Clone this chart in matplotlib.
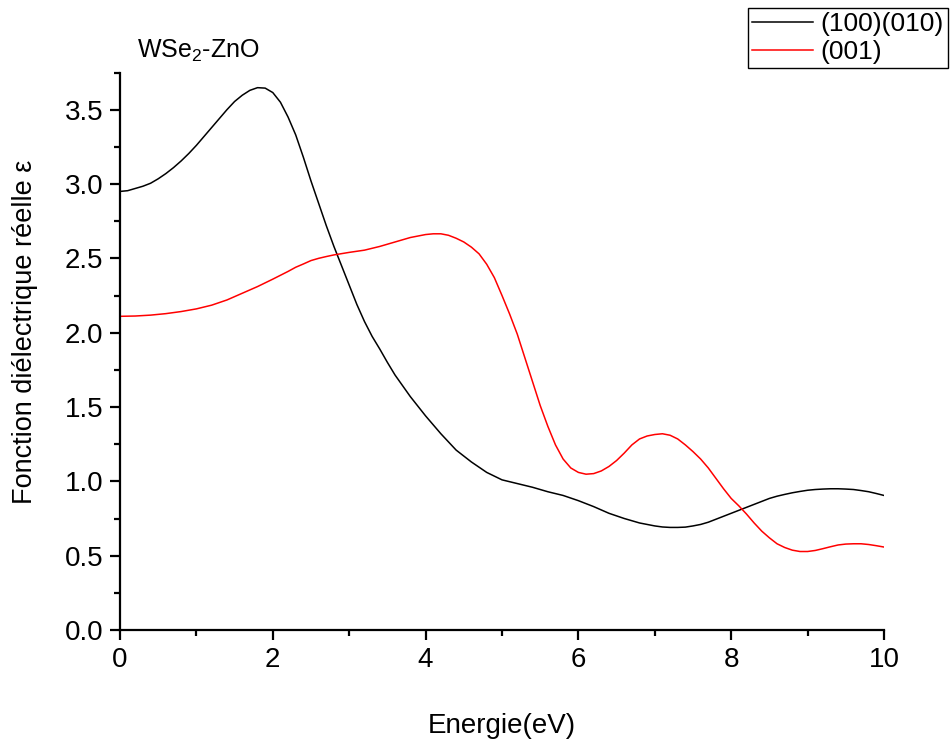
import matplotlib
matplotlib.use("Agg")
import matplotlib.pyplot as plt
from matplotlib.ticker import MultipleLocator, FormatStrFormatter

plt.rcParams['font.family'] = ['Liberation Sans', 'DejaVu Sans']

energy_a = [0.0, 0.1, 0.2, 0.3, 0.4, 0.5, 0.6, 0.7, 0.8, 0.9, 1.0, 1.1, 1.2, 1.3,
            1.4, 1.5, 1.6, 1.7, 1.8, 1.9, 2.0, 2.1, 2.2, 2.3, 2.4, 2.5, 2.6, 2.7,
            2.8, 2.9, 3.0, 3.1, 3.2, 3.3, 3.4, 3.5, 3.6, 3.8, 4.0, 4.2, 4.4, 4.6,
            4.8, 5.0, 5.2, 5.4, 5.6, 5.8, 6.0, 6.2, 6.4, 6.6, 6.8, 7.0, 7.1, 7.2,
            7.3, 7.4, 7.5, 7.6, 7.7, 7.8, 7.9, 8.0, 8.1, 8.2, 8.3, 8.4, 8.5, 8.6,
            8.7, 8.8, 8.9, 9.0, 9.1, 9.2, 9.3, 9.4, 9.5, 9.6, 9.7, 9.8, 9.9, 10.0]
eps_100 = [2.95, 2.955, 2.97, 2.985, 3.005, 3.035, 3.07, 3.11, 3.155, 3.205, 3.26,
           3.32, 3.38, 3.44, 3.50, 3.555, 3.597, 3.63, 3.648, 3.645, 3.615, 3.55,
           3.45, 3.33, 3.18, 3.02, 2.87, 2.72, 2.58, 2.45, 2.32, 2.19, 2.075,
           1.975, 1.89, 1.80, 1.715, 1.57, 1.44, 1.32, 1.21, 1.13, 1.06, 1.01,
           0.985, 0.96, 0.93, 0.905, 0.87, 0.83, 0.785, 0.75, 0.72, 0.70, 0.693,
           0.69, 0.69, 0.692, 0.70, 0.71, 0.725, 0.745, 0.765, 0.785, 0.805,
           0.825, 0.845, 0.865, 0.885, 0.90, 0.912, 0.923, 0.932, 0.94, 0.945,
           0.948, 0.95, 0.95, 0.948, 0.945, 0.938, 0.93, 0.918, 0.905]

energy_b = [0.0, 0.2, 0.4, 0.6, 0.8, 1.0, 1.2, 1.4, 1.6, 1.8, 2.0, 2.2, 2.3, 2.4,
            2.5, 2.6, 2.7, 2.8, 3.0, 3.2, 3.4, 3.6, 3.8, 4.0, 4.1, 4.2, 4.3, 4.4,
            4.5, 4.6, 4.7, 4.8, 4.9, 5.0, 5.1, 5.2, 5.3, 5.4, 5.5, 5.6, 5.7, 5.8,
            5.9, 6.0, 6.1, 6.2, 6.3, 6.4, 6.5, 6.6, 6.7, 6.8, 6.9, 7.0, 7.1, 7.2,
            7.3, 7.4, 7.5, 7.6, 7.7, 7.8, 7.9, 8.0, 8.1, 8.2, 8.3, 8.4, 8.5, 8.6,
            8.7, 8.8, 8.9, 9.0, 9.1, 9.2, 9.3, 9.4, 9.5, 9.6, 9.7, 9.8, 9.9, 10.0]
eps_001 = [2.11, 2.112, 2.118, 2.128, 2.142, 2.16, 2.185, 2.22, 2.265, 2.31, 2.36,
           2.412, 2.44, 2.462, 2.485, 2.50, 2.512, 2.523, 2.54, 2.555, 2.58, 2.61,
           2.64, 2.66, 2.665, 2.665, 2.655, 2.635, 2.61, 2.575, 2.53, 2.46, 2.37,
           2.25, 2.125, 1.99, 1.83, 1.67, 1.51, 1.37, 1.245, 1.15, 1.09, 1.06,
           1.048, 1.052, 1.07, 1.10, 1.14, 1.19, 1.245, 1.285, 1.305, 1.315, 1.32,
           1.31, 1.285, 1.245, 1.20, 1.15, 1.09, 1.02, 0.95, 0.885, 0.835, 0.78,
           0.72, 0.665, 0.62, 0.58, 0.555, 0.537, 0.528, 0.528, 0.535, 0.547,
           0.56, 0.572, 0.578, 0.58, 0.58, 0.575, 0.567, 0.558]

fig = plt.figure(figsize=(9.53, 7.44), dpi=100)
ax = fig.add_axes([120 / 953, 1 - 630 / 744, 764 / 953, 557.5 / 744])

l1, = ax.plot(energy_a, eps_100, color='black', lw=1.1, label='(100)(010)')
l2, = ax.plot(energy_b, eps_001, color='red', lw=1.1, label='(001)')

ax.set_xlim(0, 10)
ax.set_ylim(0, 3.75)
ax.xaxis.set_major_locator(MultipleLocator(2))
ax.xaxis.set_minor_locator(MultipleLocator(1))
ax.yaxis.set_major_locator(MultipleLocator(0.5))
ax.yaxis.set_minor_locator(MultipleLocator(0.25))
ax.yaxis.set_major_formatter(FormatStrFormatter('%.1f'))

for s in ['top', 'right']:
    ax.spines[s].set_visible(False)
for s in ['left', 'bottom']:
    ax.spines[s].set_linewidth(1.6)
ax.tick_params(which='major', direction='out', length=7, width=1.6,
               labelsize=20, pad=5)
ax.tick_params(which='minor', direction='out', length=4, width=1.6)

ax.set_xlabel('Energie(eV)', fontsize=20)
ax.xaxis.set_label_coords(0.5, (630 - 713) / 557.5)
ax.set_ylabel('Fonction diélectrique réelle ε', fontsize=19.5)
ax.yaxis.set_label_coords((38 - 120) / 764, (630 - 332) / 557.5)

fig.text(137 / 953, 1 - 58 / 744, r'WSe$\mathregular{_2}$-ZnO', fontsize=18,
         va='baseline')

leg = fig.legend(handles=[l1, l2], loc='upper right',
                 bbox_to_anchor=(948 / 953, 1 - 8 / 744), fontsize=19,
                 fancybox=False, edgecolor='black', framealpha=1,
                 handlelength=2.3, borderpad=0.15, labelspacing=0.15,
                 handletextpad=0.3, borderaxespad=0)
leg.get_frame().set_linewidth(1.0)

fig.savefig('out.png', dpi=100)
